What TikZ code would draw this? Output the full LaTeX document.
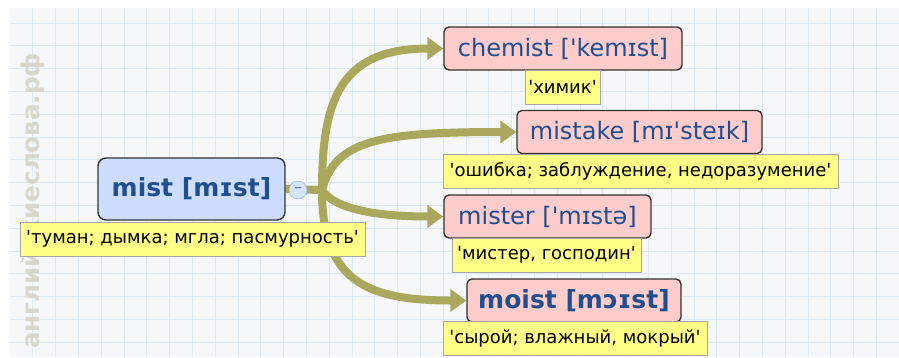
\documentclass[tikz,border=0pt]{standalone}
\usepackage{fontspec}
\setmainfont{DejaVu Sans}
\usepackage{tikz}
\usepackage{xcolor}
\usetikzlibrary{arrows.meta,positioning}
\definecolor{MapBack}{HTML}{F5F7F9}
\definecolor{MapGrid}{HTML}{DDEAF2}
\definecolor{MapOlive}{HTML}{AAA85C}
\definecolor{MapRoot}{HTML}{CCDDFF}
\definecolor{MapWord}{HTML}{FFCCCC}
\definecolor{MapNote}{HTML}{FFFF88}
\definecolor{MapInk}{HTML}{1F4F8F}
\definecolor{MapMark}{HTML}{D8D8CA}
\definecolor{MapFold}{HTML}{D3E5F8}
\newcommand{\q}{\textquotesingle}
\pgfdeclarelayer{bg}
\pgfsetlayers{bg,main}
\tikzset{
  rootnode/.style={draw=black!80, fill=MapRoot, rounded corners=8pt, line width=1.4pt, inner sep=0pt, text=MapInk, font=\fontsize{25}{29}\selectfont\bfseries, minimum width=187pt, minimum height=62pt},
  wordnode/.style={draw=black!80, fill=MapWord, rounded corners=5pt, line width=1.4pt, inner sep=0pt, text=MapInk, font=\fontsize{24}{28}\selectfont, minimum height=43pt},
  wordbold/.style={wordnode, font=\fontsize{25}{29}\selectfont\bfseries},
  transnode/.style={draw=gray!70, fill=MapNote, line width=0.8pt, inner sep=0pt, text=black, font=\fontsize{18}{21}\selectfont, minimum height=34pt},
  foldnode/.style={circle, draw=MapFold!70!blue, fill=MapFold, minimum size=18pt, inner sep=0pt, text=gray!80!blue, font=\fontsize{16}{16}\selectfont},
  branch/.style={-{Triangle[length=16pt,width=22pt]}, line width=8pt, draw=MapOlive},
  gridline/.style={draw=MapGrid, line width=0.8pt}
}

\begin{document}
\begin{tikzpicture}[x=1pt,y=-1pt]
  \useasboundingbox (0,0) rectangle (899,357);
  \begin{pgfonlayer}{bg}
    \fill[MapBack] (10,8) rectangle (899,357);
    \foreach \gx in {1,...,38}
      \draw[gridline] ({10+22.8*\gx},8) -- ({10+22.8*\gx},357);
    \foreach \gy in {0,...,14}
      \draw[gridline] (10,{23+22.8*\gy}) -- (899,{23+22.8*\gy});
  \end{pgfonlayer}
  \node[rotate=90, text=MapMark, font=\fontsize{24.5}{25}\selectfont\bfseries] (mark) at (33,201) {английскиеслова.рф};
  % root word
  \node[rootnode] (mist) at (191.5,189) {mist [mɪst]};
  \node[transnode, minimum width=345pt] (mistTr) at (192.5,239) {\q туман; дымка; мгла; пасмурность\q};
  \node[foldnode] (fold) at (298,190) {–};
  \coordinate (hub) at (322,190);
  % related words
  \node[wordnode, minimum width=238pt] (chemist) at (563,48.5) {chemist [\q kemɪst]};
  \node[transnode, minimum width=75pt] (chemistTr) at (562.5,87) {\q химик\q};
  \node[wordnode, minimum width=245pt] (mistake) at (639.5,132) {mistake [mɪ\q steɪk]};
  \node[transnode, minimum width=395pt] (mistakeTr) at (640.5,171) {\q ошибка; заблуждение, недоразумение\q};
  \node[wordnode, minimum width=207pt] (mister) at (547.5,216.5) {mister [\q mɪstə]};
  \node[transnode, minimum width=189pt] (misterTr) at (546.5,255) {\q мистер, господин\q};
  \node[wordbold, minimum width=214pt] (moist) at (574,300.5) {moist [mɔɪst]};
  \node[transnode, minimum width=264pt] (moistTr) at (575,338.5) {\q сырой; влажный, мокрый\q};
  \begin{pgfonlayer}{bg}
    \draw[line width=8pt, draw=MapOlive] (mist.east) -- (hub);
    \draw[branch] (hub) .. controls (322,100) and (340,48.5) .. (chemist.west);
    \draw[branch] (hub) .. controls (335,140) and (380,132) .. (mistake.west);
    \draw[branch] (hub) .. controls (335,210) and (380,216.5) .. (mister.west);
    \draw[branch] (hub) .. controls (322,280) and (365,300.5) .. (moist.west);
  \end{pgfonlayer}
\end{tikzpicture}
\end{document}
